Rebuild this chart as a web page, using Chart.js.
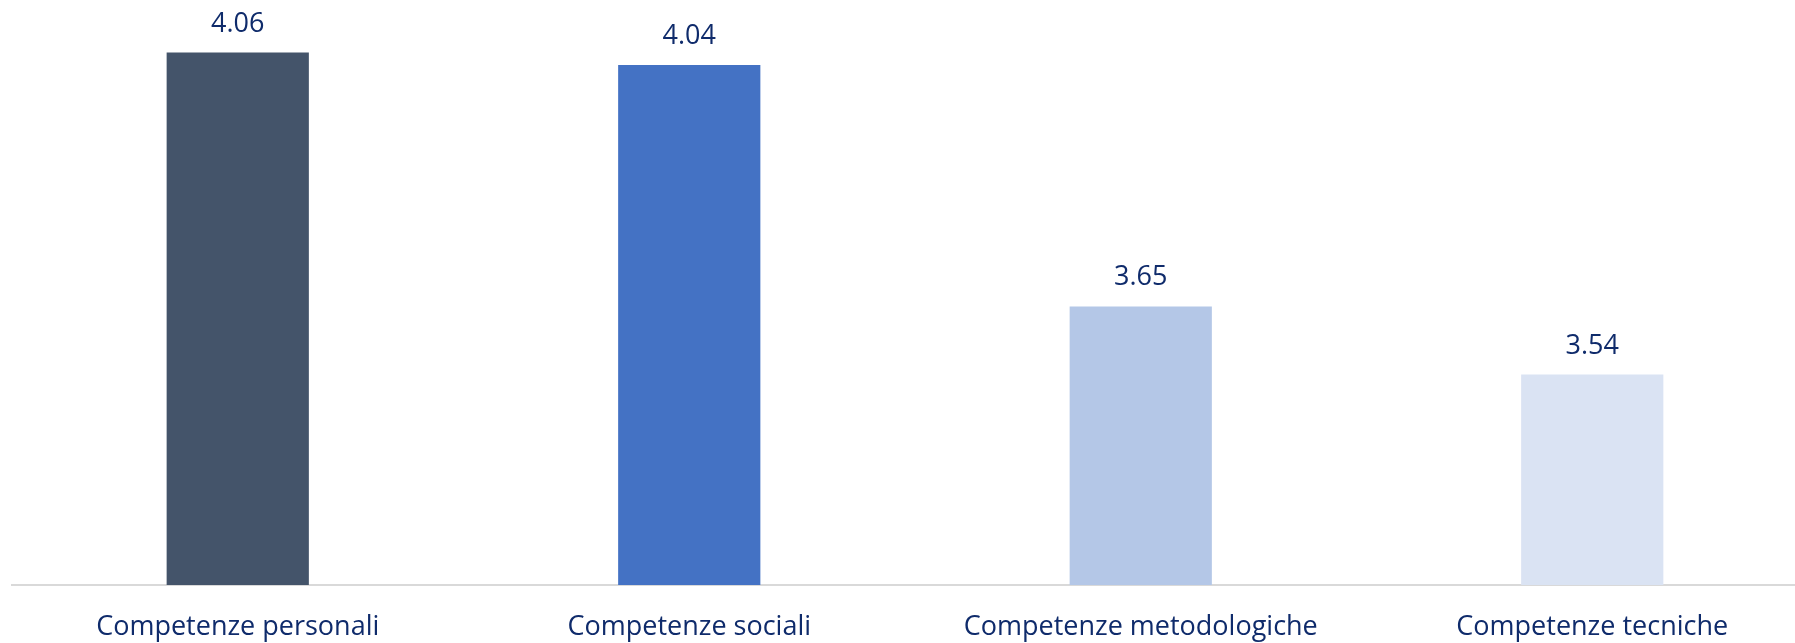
<!DOCTYPE html>
<html lang="it">
<head>
    <meta charset="UTF-8">
    <title>Competenze</title>
    <script src="https://cdn.jsdelivr.net/npm/chart.js"></script>
    <style>
        * {
            margin: 0;
            padding: 0;
            box-sizing: border-box;
        }
        html, body {
            width: 1795px;
            height: 643px;
            overflow: hidden;
            background: #ffffff;
        }
        .chart-container {
            position: relative;
            width: 1818px;  /* l'area del grafico esce a destra, come nell'originale */
            height: 643px;
        }
    </style>
</head>
<body>
    <div class="chart-container">
        <canvas id="myChart"></canvas>
    </div>
    <script>
        // dati
        var categories = ['Competenze personali', 'Competenze sociali', 'Competenze metodologiche', 'Competenze tecniche'];
        var values = [4.06, 4.04, 3.65, 3.54];
        var barColors = ['#44546A', '#4472C4', '#B4C7E7', '#DAE3F3'];

        var textColor = '#0F2B6B';
        var fontFamily = '"Open Sans", sans-serif';

        // etichette dei valori sopra le barre
        var valueLabels = {
            id: 'valueLabels',
            afterDatasetsDraw: function(chart) {
                var ctx = chart.ctx;
                var meta = chart.getDatasetMeta(0);
                ctx.save();
                ctx.font = '27px ' + fontFamily;
                ctx.fillStyle = textColor;
                ctx.textAlign = 'center';
                ctx.textBaseline = 'alphabetic';
                meta.data.forEach(function(bar, i) {
                    ctx.fillText(values[i].toFixed(2), bar.x, bar.y - 21);
                });
                ctx.restore();
            }
        };

        var ctx = document.getElementById('myChart').getContext('2d');
        var myChart = new Chart(ctx, {
            type: 'bar',
            data: {
                labels: categories,
                datasets: [{
                    data: values,
                    backgroundColor: barColors,
                    borderWidth: 0,
                    barPercentage: 0.315,
                    categoryPercentage: 1.0
                }]
            },
            options: {
                responsive: true,
                maintainAspectRatio: false,
                animation: false,
                layout: {
                    padding: { left: 12, right: 0, top: 0, bottom: 0 }
                },
                plugins: {
                    legend: { display: false },
                    tooltip: { enabled: false }
                },
                scales: {
                    x: {
                        grid: { display: false, drawTicks: false },
                        border: { display: true, color: '#D9D9D9', width: 2 },
                        ticks: {
                            color: textColor,
                            padding: 26,
                            maxRotation: 0,
                            autoSkip: false,
                            font: { family: fontFamily, size: 27 }
                        },
                        afterFit: function(scale) {
                            scale.height = 58;
                        }
                    },
                    y: {
                        display: false,
                        min: 3.2,
                        max: 4.145
                    }
                }
            },
            plugins: [valueLabels]
        });
    </script>
</body>
</html>
